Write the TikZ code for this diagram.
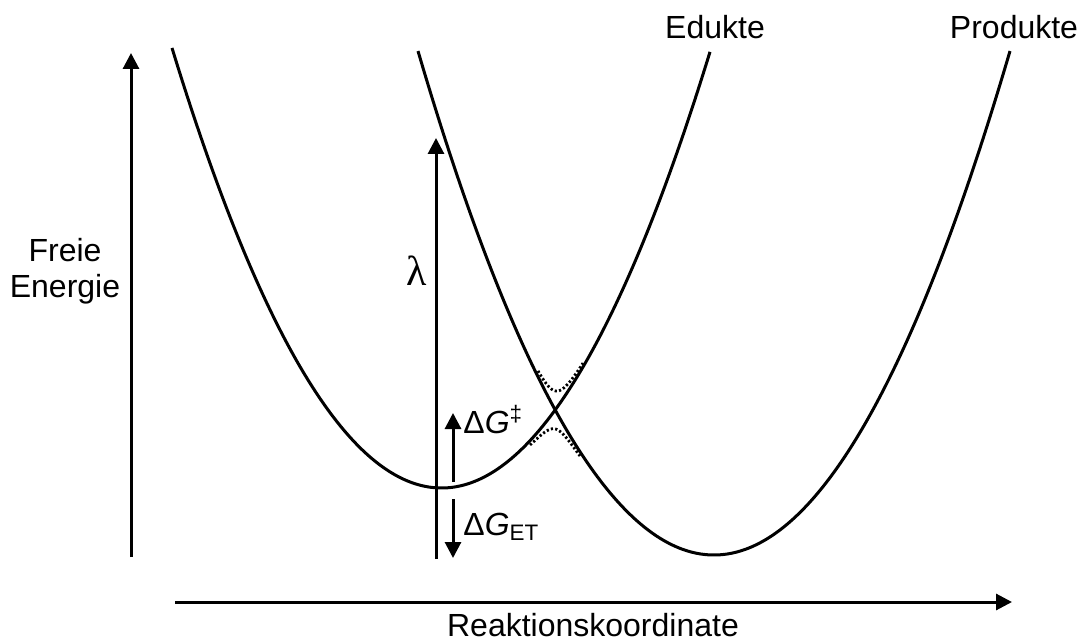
\documentclass[tikz,border=0pt]{standalone}
\usepackage{fontspec}
\setmainfont{Liberation Sans}
\newfontfamily\lambdafont{Liberation Serif}
\usetikzlibrary{arrows.meta}

\begin{document}
\begin{tikzpicture}[x=0.5pt,y=-0.5pt,
        declare function={ed(\t)=488-60.54*((\t-441.6)/100)^2;
                          pr(\t)=555-57.52*((\t-714)/100)^2;},
        axis/.style={line width=1.5pt,-{Triangle[length=8pt,width=8pt]}},
        curve/.style={line width=1.5pt},
        split/.style={line width=1.4pt,dash pattern=on 1.1pt off 1.1pt},
        txt/.style={inner sep=0pt,font=\fontsize{16}{18}\selectfont}]
        \useasboundingbox (0,0) rectangle (1081,641);
        % achsen
        \coordinate (e0) at (131,557);
        \coordinate (e1) at (131,53);
        \coordinate (r0) at (175,602);
        \coordinate (r1) at (1012,602);
        \draw[axis] (e0) -- (e1);
        \draw[axis] (r0) -- (r1);
        % parabeln
        \draw[curve] plot[domain=172:710,samples=120,smooth] (\x,{ed(\x)});
        \draw[curve] plot[domain=418:1010,samples=120,smooth] (\x,{pr(\x)});
        \draw[split] plot[domain=538:583,samples=40,smooth] (\x,{(ed(\x)+pr(\x))/2-sqrt(((ed(\x)-pr(\x))/2)^2+361)});
        \draw[split] plot[domain=530:580,samples=40,smooth] (\x,{(ed(\x)+pr(\x))/2+sqrt(((ed(\x)-pr(\x))/2)^2+361)});
        % energiepfeile
        \coordinate (l0) at (436,559);
        \coordinate (l1) at (436,138);
        \coordinate (ts0) at (453,482);
        \coordinate (ts1) at (453,413);
        \coordinate (et0) at (453,499);
        \coordinate (et1) at (453,558);
        \draw[axis] (l0) -- (l1);
        \draw[axis] (ts0) -- (ts1);
        \draw[axis] (et0) -- (et1);
        \node[txt,anchor=base] (edukte) at (715,39) {Edukte};
        \node[txt,anchor=base] (produkte) at (1014,39) {Produkte};
        \node[txt,anchor=base] (rk) at (593,636) {Reaktionskoordinate};
        \node[txt,anchor=base,align=center] (fe) at (65,298) {Freie\\Energie};
        \node[txt,anchor=base] (lambda) at (417,286) {\lambdafont\fontsize{21}{24}\selectfont λ};
        \node[txt,anchor=base west] (dgts) at (463,434) {Δ\textit{G}\textsuperscript{‡}};
        \node[txt,anchor=base west] (dget) at (463,535) {Δ\textit{G}\textsubscript{ET}};
    \end{tikzpicture}
\end{document}
